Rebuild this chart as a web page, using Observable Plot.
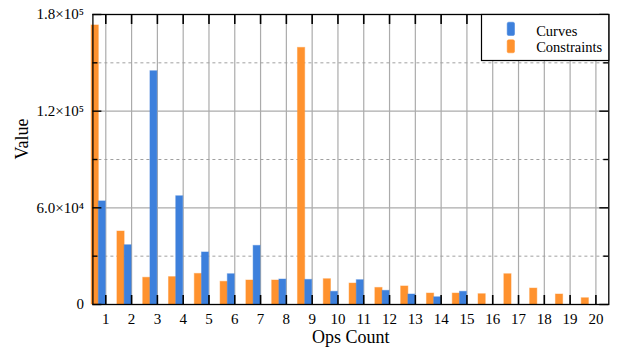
<!DOCTYPE html>
<html>
<head>
<meta charset="utf-8">
<script src="https://cdn.jsdelivr.net/npm/d3@7"></script>
<script src="https://cdn.jsdelivr.net/npm/@observablehq/plot@0.6"></script>
<style>
  html, body { margin: 0; padding: 0; background: #fff; }
  #chart svg { display: block; }
</style>
</head>
<body>
<div id="chart"></div>
<script>
// ---- data ----
const categories = [1,2,3,4,5,6,7,8,9,10,11,12,13,14,15,16,17,18,19,20];
const curves = [64000, 36800, 144800, 67200, 32300, 18800, 36400, 15500, 15300, 7900, 15100, 8500, 6200, 4500, 7900, 0, 0, 0, 0, 0];
const constraints = [173200, 45300, 16600, 17000, 19000, 14100, 14900, 14900, 159300, 15700, 13000, 10300, 11200, 6800, 6800, 6400, 18800, 9900, 6200, 3900];
const seriesNames = ["Curves", "Constraints"];
const yMajorTicks = [0, 60000, 120000, 180000];
const yMinorTicks = [30000, 90000, 150000];
const yTickLabels = ["0", "6.0×10⁴", "1.2×10⁵", "1.8×10⁵"];
const xLabel = "Ops Count";
const yLabel = "Value";

// ---- layout ----
const W = 617, H = 352;
const mL = 92.4, mR = 8.7, mT = 14, mB = 48;
const pw = W - mL - mR, ph = H - mT - mB;
const blue = "#3d80dc", orange = "#ff922e";

const rows = categories.map((c, i) => ({cat: c, curves: curves[i], constraints: constraints[i]}));
const labelOf = new Map(yMajorTicks.map((v, i) => [v, yTickLabels[i]]));

const plot = Plot.plot({
  width: W, height: H,
  marginLeft: mL, marginRight: mR, marginTop: mT, marginBottom: mB,
  style: {fontFamily: "'Liberation Serif', 'Times New Roman', serif", fontSize: "15px", color: "#000", background: "#fff"},
  x: {domain: [0.5, 20.5], axis: null},
  y: {domain: [0, 180000], axis: null},
  marks: [
    // grid
    Plot.ruleX(categories, {stroke: "#ababab", strokeWidth: 1.2}),
    Plot.ruleY([60000, 120000], {stroke: "#ababab", strokeWidth: 1.2}),
    Plot.ruleY(yMinorTicks, {stroke: "#a0a0a0", strokeWidth: 1, strokeDasharray: "3,3"}),
    // bars
    Plot.rectY(rows, {x1: d => d.cat - 0.55, x2: d => d.cat - 0.27, y: "constraints", fill: orange, stroke: orange, strokeOpacity: 0.45, strokeWidth: 1}),
    Plot.rectY(rows, {x1: d => d.cat - 0.27, x2: d => d.cat, y: "curves", fill: blue, stroke: blue, strokeOpacity: 0.45, strokeWidth: 1}),
    // inward ticks
    Plot.tickX(categories, {x: d => d, insetTop: ph - 9, stroke: "#000", strokeWidth: 1.6}),
    Plot.tickX(categories, {x: d => d, insetBottom: ph - 10, stroke: "#000", strokeWidth: 1.6}),
    Plot.tickY(yMajorTicks, {y: d => d, insetRight: pw - 9, stroke: "#000", strokeWidth: 1.4}),
    Plot.tickY(yMinorTicks, {y: d => d, insetRight: pw - 5, stroke: "#000", strokeWidth: 1.4}),
    Plot.tickY(yMajorTicks, {y: d => d, insetLeft: pw - 9, stroke: "#000", strokeWidth: 1.4}),
    Plot.tickY(yMinorTicks, {y: d => d, insetLeft: pw - 5, stroke: "#000", strokeWidth: 1.4}),
    Plot.frame({stroke: "#000", strokeWidth: 1.3}),
    // axes labels
    Plot.axisX(categories, {tickSize: 0, tickPadding: 9, fontSize: 15, tickFormat: d => String(d), label: null}),
    Plot.axisY(yMajorTicks, {tickSize: 0, tickPadding: 9, fontSize: 15, tickFormat: d => labelOf.get(d), label: null}),
    Plot.text([xLabel], {frameAnchor: "bottom", dy: 33, fontSize: 18, lineAnchor: "middle"}),
    Plot.text([yLabel], {frameAnchor: "left", dx: -70.5, rotate: -90, fontSize: 18, lineAnchor: "middle"}),
    // legend
    Plot.frame({insetLeft: 481 - mL, insetBottom: ph - 46, fill: "#fff", stroke: "#000", strokeWidth: 1.2}),
    Plot.frame({insetLeft: 506.7 - mL, insetRight: W - mR - 514, insetTop: 7.7, insetBottom: ph - 21, fill: blue, stroke: blue, strokeOpacity: 0.5, rx: 1.5}),
    Plot.frame({insetLeft: 506.7 - mL, insetRight: W - mR - 514, insetTop: 25.3, insetBottom: ph - 38.3, fill: orange, stroke: orange, strokeOpacity: 0.5, rx: 1.5}),
    Plot.text([seriesNames[0]], {frameAnchor: "top-right", dx: -(W - mR - 535.7), dy: 16.5, textAnchor: "start", lineAnchor: "middle", fontSize: 14.5}),
    Plot.text([seriesNames[1]], {frameAnchor: "top-right", dx: -(W - mR - 535.7), dy: 33.2, textAnchor: "start", lineAnchor: "middle", fontSize: 14.5})
  ]
});
document.getElementById("chart").appendChild(plot);
</script>
</body>
</html>
